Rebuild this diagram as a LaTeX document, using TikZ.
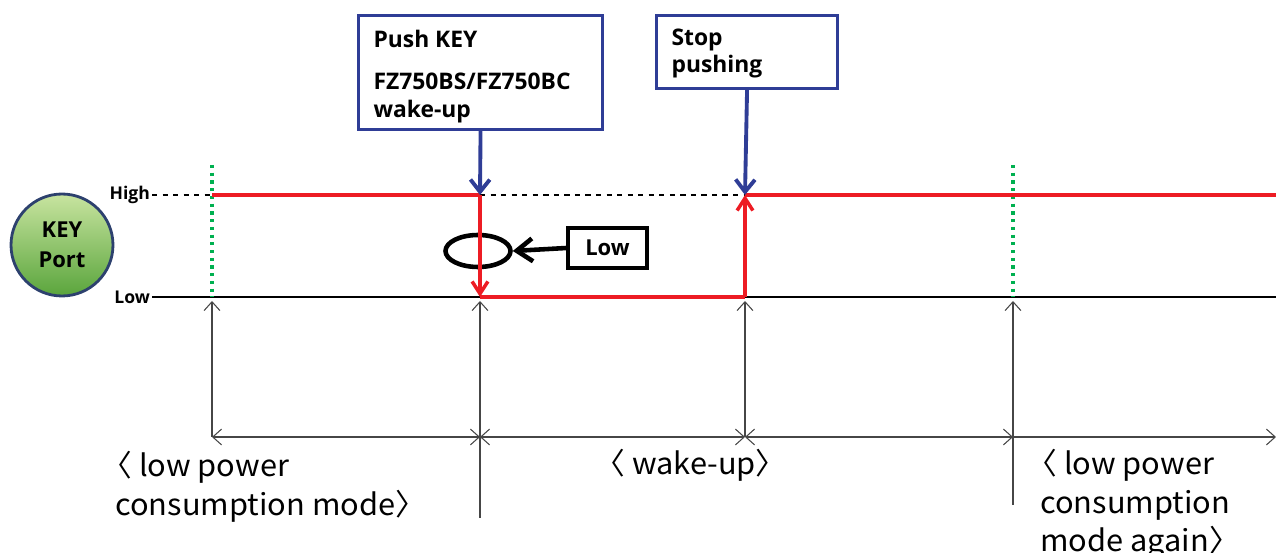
\documentclass[tikz,border=0pt]{standalone}
\usepackage{fontspec}
\setmainfont{Open Sans}
\newfontfamily\cjk[FakeStretch=1.03]{Noto Sans CJK KR}
\usetikzlibrary{positioning, arrows.meta, shapes.geometric}

\definecolor{sigred}{RGB}{237,28,36}
\definecolor{boxblue}{RGB}{47,61,150}
\definecolor{dotgreen}{RGB}{0,176,80}
\definecolor{dimgray}{RGB}{70,70,70}

\tikzset{
  sig/.style={sigred, line width=2pt},
  sigtip/.style={-{Straight Barb[length=7pt, width=9pt, line width=2pt]}},
  bluebox/.style={draw=boxblue, line width=1.8pt, inner ysep=0pt, inner xsep=0.3cm,
    anchor=north west, font=\bfseries\fontsize{13}{16}\selectfont},
  bluearrow/.style={boxblue, line width=2.2pt,
    -{Straight Barb[length=7pt, width=11pt, line width=2.2pt]}},
  greendot/.style={dotgreen, line width=1.8pt, dash pattern=on 1.8pt off 2.6pt},
  dim/.style={dimgray, line width=0.6pt},
  dimtip/.style={-{Straight Barb[length=5pt, width=9pt, line width=0.6pt]}},
  dimboth/.style={{Straight Barb[length=5pt, width=9pt, line width=0.6pt]}-{Straight Barb[length=5pt, width=9pt, line width=0.6pt]}},
  modetext/.style={anchor=north west, align=left, inner sep=0pt,
    font=\cjk\fontsize{17}{22}\selectfont}
}

\begin{document}
\begin{tikzpicture}[x=0.02cm, y=-0.02cm]
        \useasboundingbox (0,0) rectangle (1276,553);

        % key port button
        \node[circle, minimum size=2.04cm, draw={rgb,255:red,45;green,65;blue,110},
          line width=1.6pt, shading=axis, shading angle=-45,
          top color={rgb,255:red,200;green,228;blue,160},
          bottom color={rgb,255:red,90;green,165;blue,60}, align=center,
          font=\bfseries\fontsize{12.5}{17}\selectfont] (key) at (62,245) {KEY\\Port};

        \node[anchor=east, inner sep=1pt, font=\bfseries\fontsize{10}{12}\selectfont]
          (high) at (152,195) {High};
        \node[anchor=east, inner sep=1pt, font=\bfseries\fontsize{10}{12}\selectfont]
          (low) at (152,297) {Low};

        % signal corners
        \coordinate (h0) at (212,195);
        \coordinate (h1) at (480,195);
        \coordinate (l1) at (480,297);
        \coordinate (l2) at (745,297);
        \coordinate (h2) at (745,195);
        \coordinate (hend) at (1276,195);
        \coordinate (lend) at (1276,297);
        \coordinate (g0) at (212,165);
        \coordinate (g3) at (1013,165);
        \coordinate (l3) at (1013,297);

        \draw[dashed, line width=0.6pt] (high) -- (h0);
        \draw[dashed, line width=0.6pt] (h1) -- (h2);
        \draw[line width=0.8pt] (low) -- (lend);
        \draw[greendot] (g0) -- (212,297);
        \draw[greendot] (g3) -- (l3);

        % low marker
        \node[ellipse, draw, line width=2.6pt, minimum width=1.3cm,
          minimum height=0.64cm] (ring) at (478,251) {};
        \node[draw, line width=1.8pt, minimum width=1.58cm, minimum height=0.8cm,
          font=\bfseries\fontsize{12.5}{14}\selectfont] (lowbox) at (607.5,248) {Low};
        \draw[line width=2.6pt, -{Straight Barb[length=9pt, width=13pt, line width=2.6pt]}]
          (lowbox.west) -- (ring.east);

        \draw[sig] (h0) -- (h1);
        \draw[sig, sigtip] (h1) -- (l1);
        \draw[sig] (l1) -- (l2);
        \draw[sig, sigtip] (l2) -- (h2);
        \draw[sig] (h2) -- (hend);

        % boxes on top
        \node[bluebox] (push) at (357,14) {\parbox[c][2.28cm][t]{4.28cm}{%
          \rule{0pt}{18pt}Push KEY\\[8pt]FZ750BS/FZ750BC\\wake-up}};
        \node[bluebox] (stop) at (655,14) {\parbox[c][1.46cm][t]{3.02cm}{%
          \rule{0pt}{17pt}Stop\\[-0.6pt]pushing}};

        \draw[bluearrow] (push.south) -- (h1);
        \draw[bluearrow] (stop.south) -- (h2);

        % time marks
        \coordinate (m0) at (212,437);
        \coordinate (m1) at (480,437);
        \coordinate (m2) at (745,437);
        \coordinate (m3) at (1013,437);
        \coordinate (mend) at (1276,437);
        \coordinate (t0) at (212,301);
        \coordinate (t1) at (480,301);
        \coordinate (t2) at (745,301);
        \coordinate (t3) at (1013,301);
        \coordinate (b1) at (480,518);
        \coordinate (b3) at (1013,505);

        \draw[dim, dimtip] (m0) -- (t0);
        \draw[dim, dimtip] (b1) -- (t1);
        \draw[dim, dimtip] (m2) -- (t2);
        \draw[dim, dimtip] (b3) -- (t3);

        \draw[dim, dimboth] (m0) -- (m1);
        \draw[dim, dimboth] (m1) -- (m2);
        \draw[dim, dimboth] (m2) -- (m3);
        \draw[dim, dimtip] (m3) -- (mend);

        \node[modetext] (sleep) at (115,451)
          {\hspace*{-0.28cm}〈 low power\\consumption mode〉};
        \node[modetext] (wake) at (608,449) {\hspace*{-0.28cm}〈 wake-up〉};
        \node[modetext] (again) at (1040,449)
          {\hspace*{-0.28cm}〈 low power\\consumption\\mode again〉};
      \end{tikzpicture}
\end{document}
